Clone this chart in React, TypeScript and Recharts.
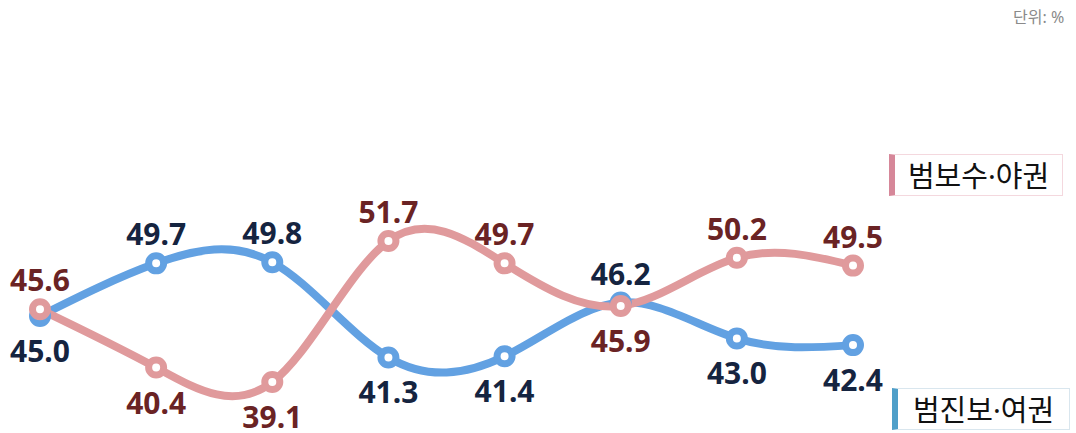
import { LineChart, Line, XAxis, YAxis, LabelList } from 'recharts';

const periods = ['1', '2', '3', '4', '5', '6', '7', '8'];
const progressive = [45.0, 49.7, 49.8, 41.3, 41.4, 46.2, 43.0, 42.4];
const conservative = [45.6, 40.4, 39.1, 51.7, 49.7, 45.9, 50.2, 49.5];

const BLUE = '#62a1e2';
const PINK = '#e09a9c';
const BLUE_TEXT = '#152440';
const PINK_TEXT = '#6a2324';

const data = periods.map((p, i) => ({ p, prog: progressive[i], cons: conservative[i] }));

const makeLabel = (own: number[], other: number[], color: string) =>
  function ValueLabel(props: any) {
    const { x, y, index } = props;
    const above = own[index] > other[index];
    return (
      <text
        x={x}
        y={above ? y - 18 : y + 46}
        textAnchor="middle"
        fill={color}
        fontSize={30}
        fontWeight={700}
        fontFamily="'Noto Sans', sans-serif"
      >
        {own[index].toFixed(1)}
      </text>
    );
  };

const legendBox = (label: string, bar: string, border: string, left: number, top: number, width: number) => (
  <div
    style={{
      position: 'absolute',
      left,
      top,
      width,
      height: 42,
      boxSizing: 'border-box',
      display: 'flex',
      alignItems: 'center',
      justifyContent: 'center',
      border: `1px solid ${border}`,
      borderLeft: `6px solid ${bar}`,
      background: '#fff',
      fontFamily: "'Noto Sans', 'Noto Sans CJK KR', sans-serif",
      fontSize: 29,
      color: '#111',
      lineHeight: 1,
    }}
  >
    {label}
  </div>
);

export default function App() {
  return (
    <div style={{ position: 'absolute', left: 0, top: 0, width: 1076, height: 433, background: '#fff', overflow: 'hidden' }}>
      <div
        style={{
          position: 'absolute',
          left: 1013,
          top: 4,
          fontSize: 16,
          color: '#8a8a8a',
          fontFamily: "'Noto Sans', 'Noto Sans CJK KR', sans-serif",
        }}
      >
        단위: %
      </div>
      <LineChart width={1076} height={433} data={data} margin={{ top: 204, right: 223, bottom: 5, left: 40 }}>
        <XAxis dataKey="p" hide />
        <YAxis hide domain={[35, 55]} />
        <Line
          type="natural"
          dataKey="prog"
          stroke={BLUE}
          strokeWidth={8}
          dot={{ r: 7.5, fill: '#fff', stroke: BLUE, strokeWidth: 7 }}
          activeDot={false}
          isAnimationActive={false}
        >
          <LabelList dataKey="prog" content={makeLabel(progressive, conservative, BLUE_TEXT)} />
        </Line>
        <Line
          type="natural"
          dataKey="cons"
          stroke={PINK}
          strokeWidth={8}
          dot={{ r: 7.5, fill: '#fff', stroke: PINK, strokeWidth: 7 }}
          activeDot={false}
          isAnimationActive={false}
        >
          <LabelList dataKey="cons" content={makeLabel(conservative, progressive, PINK_TEXT)} />
        </Line>
      </LineChart>
      {legendBox('범보수·야권', '#d68799', '#f4d8de', 889, 154, 174)}
      {legendBox('범진보·여권', '#4f9fc9', '#d9e6ee', 892, 388, 178)}
    </div>
  );
}
